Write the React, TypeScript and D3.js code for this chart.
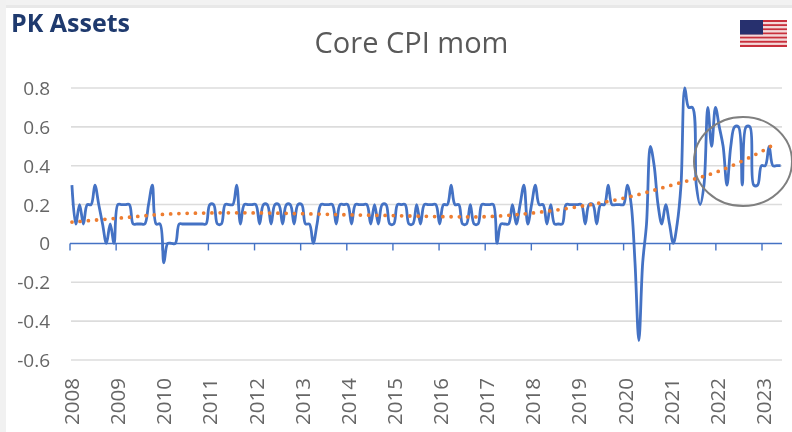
import React from "react";
import * as d3 from "d3";

const yearLabels = ["2008","2009","2010","2011","2012","2013","2014","2015","2016","2017","2018","2019","2020","2021","2022","2023"];
const yTicks = [0.8,0.6,0.4,0.2,0,-0.2,-0.4,-0.6];
const coreCpi = [
  .3,.1,.2,.1,.2,.2,.3,.2,.1,0,.1,0,
  .2,.2,.2,.2,.1,.1,.1,.1,.2,.3,.1,.1,
  -.1,0,0,0,.1,.1,.1,.1,.1,.1,.1,.1,
  .2,.2,.1,.1,.2,.2,.2,.3,.1,.2,.2,.2,
  .2,.1,.2,.2,.1,.2,.2,.1,.2,.2,.1,.2,
  .2,.1,.1,0,.1,.2,.2,.2,.2,.1,.2,.2,
  .2,.1,.2,.2,.2,.2,.1,.2,.1,.2,.2,.1,
  .1,.2,.2,.2,.1,.1,.2,.1,.2,.2,.2,.2,
  .1,.2,.2,.3,.2,.2,.1,.1,.2,.1,.1,.2,
  .2,.2,.2,0,.1,.1,.1,.2,.1,.2,.3,.1,
  .2,.3,.2,.2,.1,.2,.1,.1,.1,.2,.2,.2,
  .2,.2,.1,.2,.2,.1,.2,.2,.3,.2,.2,.2,
  .2,.3,.2,-.1,-.5,-.1,.1,.5,.4,.2,.1,.2,
  .1,0,.1,.3,.8,.7,.7,.3,.2,.3,.7,.5,
  .7,.6,.5,.3,.5,.6,.6,.3,.6,.6,.3,.3,
  .4,.4,.5,.4,.4,.4,
];
const trendYears = [2008,2009,2010,2011,2012,2013,2014,2015,2016,2017,2018,2019,2020,2021,2022,2023,2023.25];
const trendValues = [.11,.13,.15,.157,.157,.153,.147,.143,.138,.138,.157,.19,.235,.30,.37,.48,.515];
const flagStripes = [0,1,2,3,4,5,6,7,8,9,10,11,12];

const W = 792, H = 432;
const x = d3.scaleLinear().domain([-0.5, 185.5]).range([70, 782.5]);
const xYear = d3.scaleLinear().domain([2008, 2023]).range([70, 762]);
const y = d3.scaleLinear().domain([0.8, -0.6]).range([88, 360]);
const blue = "#4472c4";
const font = "'Open Sans', sans-serif";

export default function App() {
  const line = d3.line<number>().x((_, i) => x(i)).y(d => y(d)).curve(d3.curveCatmullRom.alpha(0.5));
  const trend = d3.line<number>().x((_, i) => xYear(trendYears[i]) + 2).y(d => y(d)).curve(d3.curveCatmullRom.alpha(0.5));
  const fy = d3.scaleBand<number>().domain(flagStripes).range([20, 47]);
  return (
    <svg width={W} height={H} style={{ position: "fixed", left: 0, top: 0, background: "#fff", filter: "blur(0.4px)" }}>
      <rect x={0} y={0} width={W} height={5} fill="#f2f2f2" />
      <rect x={0} y={5} width={W} height={3} fill="#e8e8e8" />
      <rect x={0} y={0} width={6} height={H} fill="#f1f1f1" />
      <text x={11} y={31.5} fontFamily={font} fontWeight={700} fontSize={25} fill="#1f3a6e" textLength={119} lengthAdjust="spacingAndGlyphs">PK Assets</text>
      <text x={411.5} y={53} textAnchor="middle" fontFamily={font} fontSize={29} fill="#595959">Core CPI mom</text>
      {yTicks.filter(t => t !== 0).map(t => (
        <line key={t} x1={71} x2={782} y1={y(t)} y2={y(t)} stroke="#dcdcdc" strokeWidth={1.6} />
      ))}
      {yTicks.map(t => (
        <text key={t} x={50} y={y(t) + 7} textAnchor="end" fontFamily={font} fontSize={19} fill="#666">{t === 0 ? "0" : t.toFixed(1)}</text>
      ))}
      <line x1={70} x2={782} y1={y(0)} y2={y(0)} stroke={blue} strokeWidth={1.6} />
      {yearLabels.map(l => {
        const px = xYear(+l);
        return (
          <g key={l}>
            <line x1={px} x2={px} y1={y(0)} y2={y(0) + 7} stroke={blue} strokeWidth={1.4} />
            <text transform={`translate(${px + 9},425) rotate(-90)`} fontFamily={font} fontSize={20.5} fill="#666">{l}</text>
          </g>
        );
      })}
      <path d={line(coreCpi) ?? ""} fill="none" stroke={blue} strokeWidth={2.8} strokeLinejoin="round" />
      <path d={trend(trendValues) ?? ""} fill="none" stroke="#ed7d31" strokeWidth={3.8} strokeLinecap="round" strokeDasharray="0 8.25" />
      <ellipse cx={743} cy={161.5} rx={49} ry={44.5} fill="none" stroke="#7f7f7f" strokeWidth={2} />
      <g>
        {flagStripes.map(s => (
          <rect key={s} x={740} width={47} y={fy(s)} height={fy.bandwidth()} fill={s % 2 ? "#f3d9d9" : "#c8303c"} />
        ))}
        <rect x={740} y={20} width={23} height={14.5} fill="#27306e" />
      </g>
    </svg>
  );
}
